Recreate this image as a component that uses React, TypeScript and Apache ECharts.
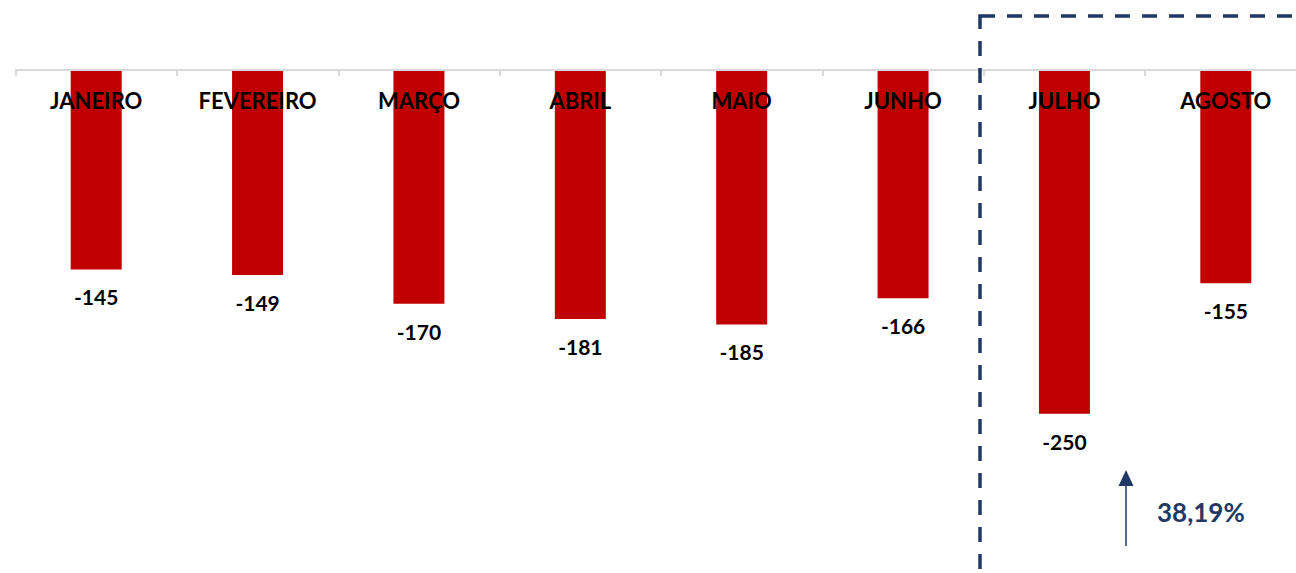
import React, { useEffect, useRef } from "react";
import * as echarts from "echarts";

const categories = ["JANEIRO", "FEVEREIRO", "MARÇO", "ABRIL", "MAIO", "JUNHO", "JULHO", "AGOSTO"];
const values = [-145, -149, -170, -181, -185, -166, -250, -155];
const changeText = "38,19%";

const FONT = "Lato, 'Noto Sans', sans-serif";
const NAVY = "#1F3864";

export default function App() {
  const ref = useRef<HTMLDivElement>(null);
  useEffect(() => {
    if (!ref.current) return;
    const chart = echarts.init(ref.current, null, { renderer: "svg" });
    chart.setOption({
      animation: false,
      backgroundColor: "#ffffff",
      grid: { left: 15.5, right: 3.5, top: 70, bottom: 1, containLabel: false },
      xAxis: {
        type: "category",
        data: categories,
        position: "top",
        z: 10,
        axisLine: { show: true, lineStyle: { color: "#d9d9d9", width: 2 } },
        axisTick: { show: true, inside: true, length: 6, lineStyle: { color: "#d9d9d9", width: 2 } },
        axisLabel: {
          inside: true,
          margin: 19,
          color: "#000000",
          fontFamily: FONT,
          fontWeight: "bold",
          fontSize: 22,
          interval: 0,
        },
        splitLine: { show: false },
      },
      yAxis: {
        type: "value",
        min: -365,
        max: 0,
        show: false,
        splitLine: { show: false },
      },
      series: [
        {
          type: "bar",
          data: values,
          barWidth: 51,
          itemStyle: { color: "#C00000" },
          label: {
            show: true,
            position: "bottom",
            distance: 17,
            color: "#000000",
            fontFamily: FONT,
            fontWeight: "bold",
            fontSize: 21,
          },
        },
      ],
      graphic: [
        {
          type: "rect",
          shape: { x: 980, y: 16, width: 400, height: 700 },
          style: { fill: "none", stroke: NAVY, lineWidth: 3.5, lineDash: [15, 12] },
          z: 20,
        },
        {
          type: "line",
          shape: { x1: 1126, y1: 546, x2: 1126, y2: 484 },
          style: { stroke: NAVY, lineWidth: 1.5 },
          z: 20,
        },
        {
          type: "polygon",
          shape: { points: [[1118.5, 486], [1133.5, 486], [1126, 470]] },
          style: { fill: NAVY },
          z: 20,
        },
        {
          type: "text",
          x: 1157,
          y: 512,
          style: {
            text: changeText,
            fill: NAVY,
            font: `bold 26px ${FONT}`,
            textVerticalAlign: "middle",
            verticalAlign: "middle",
          },
          z: 20,
        },
      ],
    });
    return () => chart.dispose();
  }, []);
  return (
    <div style={{ position: "fixed", left: 0, top: 0, width: 1296, height: 573, overflow: "hidden" }}>
      <div ref={ref} style={{ position: "absolute", left: 0, top: 0, width: 1310, height: 573 }} />
    </div>
  );
}
